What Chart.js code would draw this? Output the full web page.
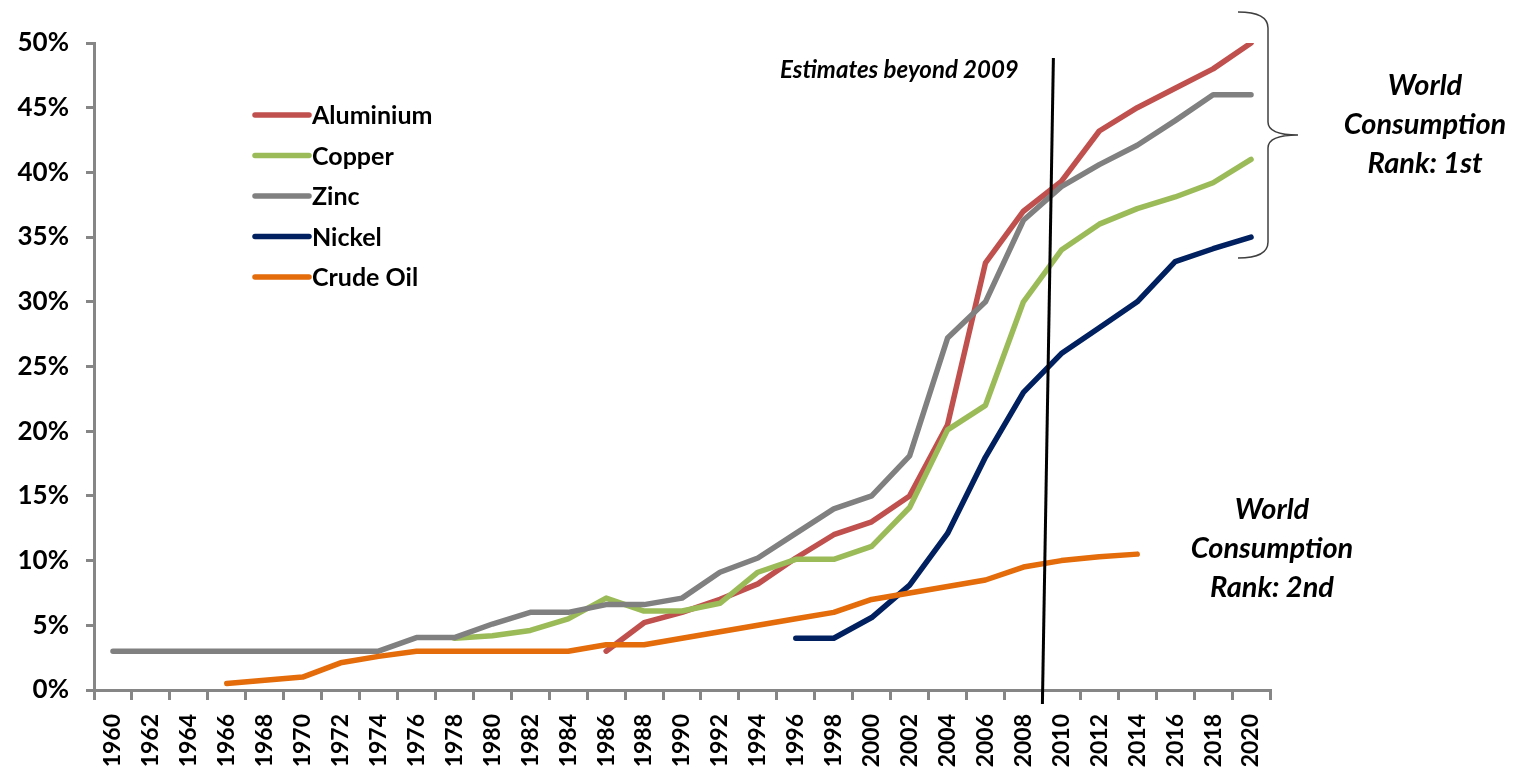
<!DOCTYPE html>
<html>
<head>
<meta charset="utf-8">
<script src="https://cdn.jsdelivr.net/npm/chart.js@4.4.1/dist/chart.umd.min.js"></script>
<style>
  body { margin: 0; background: #fff; }
  #wrap { width: 1528px; height: 775px; position: relative; }
</style>
</head>
<body>
<div id="wrap"><canvas id="chart"></canvas></div>
<script>
// years on the category axis (every 2 years)
const years = ['1960','1962','1964','1966','1968','1970','1972','1974','1976','1978','1980',
  '1982','1984','1986','1988','1990','1992','1994','1996','1998','2000',
  '2002','2004','2006','2008','2010','2012','2014','2016','2018','2020'];

// share of world consumption, %
const aluminium = [null,null,null,null,null,null,null,null,null,null,null,null,null,
  3,5.2,6,7,8.2,10.2,12,13,15,20.5,33,37,39.3,43.2,45,46.5,48,50];
const copper = [null,null,null,null,null,null,null,null,null,
  4,4.2,4.6,5.5,7.1,6.1,6.1,6.7,9.1,10.1,10.1,11.1,14.1,20.1,22,30,34,36,37.2,38.1,39.2,41];
const zinc = [3,3,3,3,3,3,3,3,
  4.05,4.05,5.1,6,6,6.6,6.6,7.1,9.1,10.2,12.1,14,15,18.1,27.2,30,36.3,38.9,40.6,42.1,44,46,46];
const nickel = [null,null,null,null,null,null,null,null,null,null,null,null,null,null,null,null,null,null,
  4,4,5.6,8.1,12.1,18,23,26,28,30,33.1,34.1,35];
const crudeOil = [null,null,null,
  0.5,0.75,1,2.1,2.6,3,3,3,3,3,3.5,3.5,4,4.5,5,5.5,6,7,7.5,8,8.5,9.5,10,10.3,10.5,
  null,null,null];

const seriesNames = ['Aluminium', 'Copper', 'Zinc', 'Nickel', 'Crude Oil'];
const seriesColors = ['#C0504D', '#9BBB59', '#808080', '#002060', '#E46C0A'];
const seriesData = [aluminium, copper, zinc, nickel, crudeOil];

const yTicks = [0, 5, 10, 15, 20, 25, 30, 35, 40, 45, 50];
const estimateYear = 2009;

const axisGray = '#868686';
const fontFam = 'Lato, "Open Sans", sans-serif';

// legend, vertical marker line and text notes
const notesPlugin = {
  id: 'notes',
  afterDatasetsDraw(chart) {
    const ctx = chart.ctx;
    const xs = chart.scales.x;
    const area = chart.chartArea;

    // estimates marker line between 2008 and 2010
    const idx = years.indexOf(String(estimateYear - 1)) + 0.5;
    const xb = xs.getPixelForValue(idx);
    ctx.save();
    ctx.strokeStyle = '#000';
    ctx.lineWidth = 3;
    ctx.beginPath();
    ctx.moveTo(xb, area.bottom + 14);
    ctx.lineTo(xb + 11, area.top + 15);
    ctx.stroke();

    ctx.fillStyle = '#000';
    ctx.font = 'italic bold 24px ' + fontFam;
    ctx.textAlign = 'center';
    ctx.textBaseline = 'middle';
    ctx.fillText('Estimates beyond ' + estimateYear, xb - 143, area.top + 27);

    // legend
    ctx.textAlign = 'left';
    ctx.font = 'bold 25px ' + fontFam;
    seriesNames.forEach((name, i) => {
      const y = 115 + i * 40.5;
      ctx.strokeStyle = seriesColors[i];
      ctx.lineWidth = 5.5;
      ctx.lineCap = 'round';
      ctx.beginPath();
      ctx.moveTo(255, y);
      ctx.lineTo(309, y);
      ctx.stroke();
      ctx.fillStyle = '#000';
      ctx.fillText(name, 312, y + 1);
    });

    // brace on the right
    const bx = area.right - 2;
    ctx.strokeStyle = '#404040';
    ctx.lineWidth = 1.5;
    ctx.lineCap = 'butt';
    ctx.beginPath();
    ctx.moveTo(bx - 30, 12);
    ctx.quadraticCurveTo(bx, 12, bx, 28);
    ctx.lineTo(bx, 122);
    ctx.quadraticCurveTo(bx, 135, bx + 30, 135);
    ctx.quadraticCurveTo(bx, 135, bx, 148);
    ctx.lineTo(bx, 242);
    ctx.quadraticCurveTo(bx, 258, bx - 30, 258);
    ctx.stroke();

    ctx.fillStyle = '#000';
    ctx.textAlign = 'center';
    ctx.font = 'italic bold 29px ' + fontFam;
    ['World', 'Consumption', 'Rank: 1st'].forEach((t, i) => {
      ctx.fillText(t, 1425, 86 + i * 39);
    });
    ['World', 'Consumption', 'Rank: 2nd'].forEach((t, i) => {
      ctx.fillText(t, 1272, 510 + i * 39);
    });
    ctx.restore();
  }
};

new Chart(document.getElementById('chart'), {
  type: 'line',
  data: {
    labels: years,
    datasets: seriesNames.map((name, i) => ({
      label: name,
      data: seriesData[i],
      borderColor: seriesColors[i],
      backgroundColor: seriesColors[i],
      borderWidth: 5.5,
      pointRadius: 0,
      tension: 0,
      borderCapStyle: 'round',
      borderJoinStyle: 'round',
      spanGaps: false,
      order: seriesNames.length - i
    }))
  },
  options: {
    responsive: true,
    maintainAspectRatio: false,
    animation: false,
    layout: { padding: { top: 43, right: 258, left: 0, bottom: 0 } },
    plugins: {
      legend: { display: false },
      tooltip: { enabled: false }
    },
    scales: {
      x: {
        type: 'category',
        offset: true,
        afterFit: s => { s.height = 85; },
        border: { color: axisGray, width: 3 },
        grid: {
          offset: true,
          drawOnChartArea: false,
          color: axisGray,
          lineWidth: 3,
          tickLength: 10
        },
        ticks: {
          color: '#000',
          font: { family: fontFam, size: 23, weight: 'bold' },
          minRotation: 90,
          maxRotation: 90,
          autoSkip: false,
          padding: 14
        }
      },
      y: {
        min: 0,
        max: 50,
        afterFit: s => { s.width = 94; },
        afterBuildTicks: s => { s.ticks = yTicks.map(v => ({ value: v })); },
        border: { color: axisGray, width: 3 },
        grid: {
          drawOnChartArea: false,
          color: axisGray,
          lineWidth: 3,
          tickLength: 8
        },
        ticks: {
          color: '#000',
          font: { family: fontFam, size: 26, weight: 'bold' },
          padding: 17,
          callback: v => v + '%'
        }
      }
    }
  },
  plugins: [notesPlugin]
});
</script>
</body>
</html>
